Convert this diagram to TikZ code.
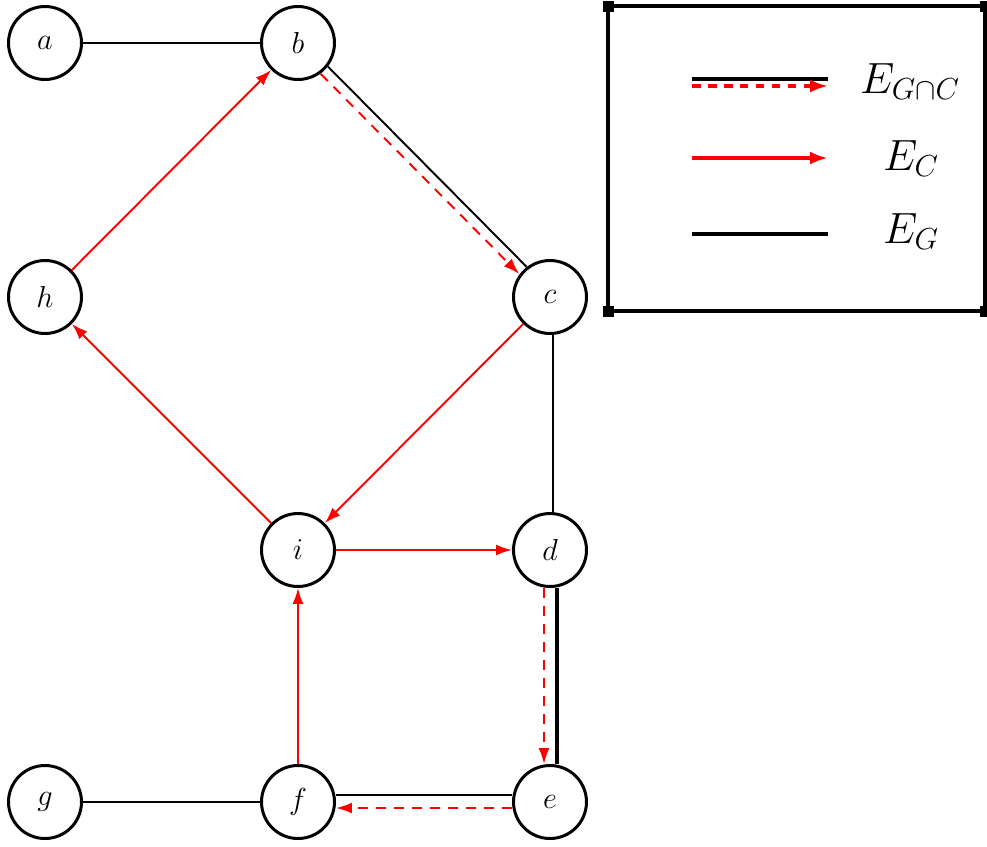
\documentclass[tikz,border=0pt]{standalone}
\usetikzlibrary{arrows.meta}
\begin{document}
\begin{tikzpicture}[x=0.02cm,y=-0.02cm,
  vtx/.style={circle,draw,line width=1.7pt,minimum size=1.46cm,inner sep=0pt,font=\fontsize{16}{19}\selectfont},
  gedge/.style={line width=1.1pt},
  gthick/.style={line width=2.2pt},
  cedge/.style={red,line width=1.1pt,-{Latex[length=0.32cm,width=0.22cm]}},
  cdash/.style={cedge,dash pattern=on 0.2cm off 0.16cm},
  legline/.style={line width=2.2pt},
  legarrow/.style={red,line width=2.2pt,-{Latex[length=0.36cm,width=0.26cm]}},
  leglab/.style={font=\fontsize{25}{30}\selectfont,anchor=base},
]
\useasboundingbox (0,0) rectangle (987,846);
% vertices
\node[vtx] (a) at (45,43) {$a$};
\node[vtx] (b) at (298,43) {$b$};
\node[vtx] (h) at (45,297) {$h$};
\node[vtx] (c) at (550,297) {$c$};
\node[vtx] (i) at (298,550) {$i$};
\node[vtx] (d) at (550,550) {$d$};
\node[vtx] (g) at (45,802) {$g$};
\node[vtx] (f) at (298,802) {$f$};
\node[vtx] (e) at (550,802) {$e$};
% edges
\draw[gedge] (a) -- (b);
\draw[gedge] (g) -- (f);
\draw[cedge] (h) -- (b);
\draw[gedge,transform canvas={shift={(3.3,-3.3)}}] (b) -- (c);
\draw[cdash,transform canvas={shift={(-4,4)}}] (b) -- (c);
\draw[gedge,transform canvas={xshift=0.06cm}] (c) -- (d);
\draw[cedge] (c) -- (i);
\draw[cedge] (i) -- (h);
\draw[cedge] (i) -- (d);
\draw[cedge] (f) -- (i);
\draw[gthick,transform canvas={xshift=0.14cm}] (d) -- (e);
\draw[cdash,transform canvas={xshift=-0.12cm}] (d) -- (e);
\draw[gedge,transform canvas={yshift=0.14cm}] (e) -- (f);
\draw[cdash,transform canvas={yshift=-0.12cm}] (e) -- (f);
% legend
\draw[line width=1.9pt] (608,6) rectangle (985,311);
\foreach \p in {(608,6),(985,6),(608,311),(985,311)}
  \fill \p ++(-5.5,-5.5) rectangle ++(11,11);
\draw[legline] (692,79) -- (828,79);
\draw[legarrow,line width=1.8pt,dash pattern=on 0.17cm off 0.15cm] (692,86) -- (828,86);
\node[leglab] (l1) at (910,93) {$E_{G\cap C}$};
\draw[legarrow] (692,158) -- (828,158);
\node[leglab] (l2) at (911,170) {$E_{C}$};
\draw[legline] (692,234) -- (828,234);
\node[leglab] (l3) at (911,243) {$E_{G}$};
\end{tikzpicture}
\end{document}
